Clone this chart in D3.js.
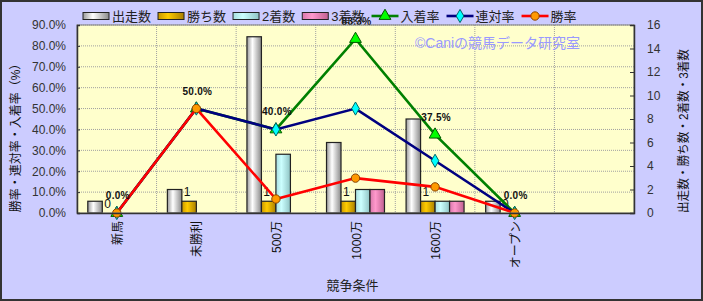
<!DOCTYPE html>
<html lang="ja">
<head>
<meta charset="UTF-8">
<title>競争条件別成績</title>
<script src="https://d3js.org/d3.v7.min.js"></script>
<style>
  body { margin: 0; background: #fff; }
  svg { display: block; }
  text { font-family: "Liberation Sans", "Noto Sans CJK JP", sans-serif; }
</style>
</head>
<body>
<div id="chart"></div>
<script>
// categories (last slot is empty in the original chart)
var categories = ["新馬", "未勝利", "500万", "1000万", "1600万", "オープン", ""];
var barSeries = ["出走数", "勝ち数", "2着数", "3着数"];

// counts
var starts  = [1, 2, 15, 6, 8, 1];
var wins    = [0, 1, 1, 1, 1, 0];
var seconds = [0, 0, 5, 2, 1, 0];
var thirds  = [0, 0, 0, 2, 1, 0];

// rates (%)
var placeRate = [0, 50.0, 40.0, 83.3, 37.5, 0];
var quinRate  = [0, 50.0, 40.0, 50.0, 25.0, 0];
var winRate   = [0, 50.0, 6.7, 16.7, 12.5, 0];

var leftTicks = [0, 10, 20, 30, 40, 50, 60, 70, 80, 90];
var rightTicks = [0, 2, 4, 6, 8, 10, 12, 14, 16];

var W = 703, H = 301;
var margin = { top: 25, right: 69, bottom: 88, left: 77 };

var svg = d3.select("#chart").append("svg")
    .attr("width", W)
    .attr("height", H);

// outer background + frame
svg.append("rect")
    .attr("x", 1).attr("y", 1)
    .attr("width", W - 2).attr("height", H - 2)
    .attr("fill", "#CCCCFF")
    .attr("stroke", "#333")
    .attr("stroke-width", 2);

var x = d3.scaleBand()
    .domain(categories)
    .range([margin.left, W - margin.right]);

var xBar = d3.scaleBand()
    .domain(barSeries)
    .range([0, x.bandwidth()])
    .paddingOuter(0.745);

var yL = d3.scaleLinear().domain([0, 90]).range([H - margin.bottom, margin.top]);
var yR = d3.scaleLinear().domain([0, 16]).range([H - margin.bottom, margin.top]);

var x0 = margin.left, x1 = W - margin.right, yb = H - margin.bottom, yt = margin.top;

// gradients for bars
var defs = svg.append("defs");
var barColors = {
    "出走数": ["#9a9a9a", "#ffffff", "#8a8a8a"],
    "勝ち数": ["#c89600", "#ffcc00", "#a87e00"],
    "2着数":  ["#a8dede", "#ccffff", "#8fc4c4"],
    "3着数":  ["#d877aa", "#ff99cc", "#c06090"]
};
barSeries.forEach(function (s, i) {
    var g = defs.append("linearGradient").attr("id", "g" + i)
        .attr("x1", "0%").attr("x2", "100%").attr("y1", "0%").attr("y2", "0%");
    g.append("stop").attr("offset", "0%").attr("stop-color", barColors[s][0]);
    g.append("stop").attr("offset", "38%").attr("stop-color", barColors[s][1]);
    g.append("stop").attr("offset", "100%").attr("stop-color", barColors[s][2]);
});

// plot area
svg.append("rect")
    .attr("x", x0).attr("y", yt)
    .attr("width", x1 - x0).attr("height", yb - yt)
    .attr("fill", "#FFFFCC");

// grid
svg.append("g").selectAll("line")
    .data(leftTicks.slice(1))
    .enter().append("line")
    .attr("x1", x0).attr("x2", x1)
    .attr("y1", function (d) { return yL(d); })
    .attr("y2", function (d) { return yL(d); })
    .attr("stroke", "#a0a0a0")
    .attr("stroke-dasharray", "1,1");

svg.append("g").selectAll("line")
    .data(categories.slice(1))
    .enter().append("line")
    .attr("x1", function (d) { return x(d); })
    .attr("x2", function (d) { return x(d); })
    .attr("y1", yt).attr("y2", yb)
    .attr("stroke", "#a0a0a0")
    .attr("stroke-dasharray", "1,1");

// watermark
svg.append("text")
    .attr("x", 415).attr("y", 48)
    .attr("fill", "#9999FF")
    .style("font-size", "14px")
    .text("©Caniの競馬データ研究室");

// bars
var barData = [starts, wins, seconds, thirds];
barSeries.forEach(function (s, i) {
    svg.append("g").selectAll("rect")
        .data(barData[i])
        .enter().append("rect")
        .attr("x", function (d, j) { return x(categories[j]) + xBar(s); })
        .attr("y", function (d) { return yR(d); })
        .attr("width", xBar.bandwidth())
        .attr("height", function (d) { return yb - yR(d); })
        .attr("fill", "url(#g" + i + ")")
        .attr("stroke", "#222")
        .attr("stroke-width", 1.2);
});

// win count labels
svg.append("g").selectAll("text")
    .data(wins)
    .enter().append("text")
    .attr("x", function (d, j) { return x(categories[j]) + xBar("勝ち数") + xBar.bandwidth() / 2 - 2; })
    .attr("y", function (d) { return yR(d) - 5; })
    .attr("text-anchor", "middle")
    .style("font-size", "12px")
    .attr("fill", "#111")
    .text(function (d) { return d; });

// line series
var lineSeries = [
    { name: "入着率", values: placeRate, color: "#008000", marker: "triangle", fill: "#00ff00", mstroke: "#005500" },
    { name: "連対率", values: quinRate, color: "#000080", marker: "diamond", fill: "#00ffff", mstroke: "#006666" },
    { name: "勝率", values: winRate, color: "#ff0000", marker: "circle", fill: "#ff9900", mstroke: "#884400" }
];

var cx = function (j) { return x(categories[j]) + x.bandwidth() / 2; };
var line = d3.line()
    .x(function (d, j) { return cx(j); })
    .y(function (d) { return yL(d); });

function symbolPath(type) {
    if (type === "triangle") return d3.symbol().type(d3.symbolTriangle).size(60)();
    if (type === "diamond") return d3.symbol().type(d3.symbolDiamond).size(50)();
    return d3.symbol().type(d3.symbolCircle).size(55)();
}

lineSeries.forEach(function (s) {
    svg.append("path")
        .datum(s.values)
        .attr("d", line)
        .attr("fill", "none")
        .attr("stroke", s.color)
        .attr("stroke-width", 2.6);
    svg.append("g").selectAll("path")
        .data(s.values)
        .enter().append("path")
        .attr("d", symbolPath(s.marker))
        .attr("transform", function (d, j) { return "translate(" + cx(j) + "," + yL(d) + ")"; })
        .attr("fill", s.fill)
        .attr("stroke", s.mstroke)
        .attr("stroke-width", 1);
});

// 入着率 labels
svg.append("g").selectAll("text")
    .data(placeRate)
    .enter().append("text")
    .attr("x", function (d, j) { return cx(j) + 1; })
    .attr("y", function (d) { return yL(d) - 14; })
    .attr("text-anchor", "middle")
    .style("font-size", "10px")
    .style("font-weight", "bold")
    .style("letter-spacing", "0.3px")
    .attr("fill", "#111")
    .text(function (d) { return d.toFixed(1) + "%"; });

// axes lines
svg.append("rect")
    .attr("x", x0).attr("y", yt)
    .attr("width", x1 - x0).attr("height", yb - yt)
    .attr("fill", "none")
    .attr("stroke", "#808080");

var axisL = svg.append("g")
    .attr("transform", "translate(" + x0 + ",0)")
    .call(d3.axisLeft(yL).tickValues(leftTicks).tickSize(-3).tickPadding(11)
        .tickFormat(function (d) { return d.toFixed(1) + "%"; }));
var axisR = svg.append("g")
    .attr("transform", "translate(" + x1 + ",0)")
    .call(d3.axisRight(yR).tickValues(rightTicks).tickSize(-4).tickPadding(13));
var axisB = svg.append("g")
    .attr("transform", "translate(0," + yb + ")")
    .call(d3.axisBottom(x).tickSize(0).tickFormat(""));

[axisL, axisR, axisB].forEach(function (a) {
    a.select(".domain").attr("stroke", "#333").attr("stroke-width", 1.5);
    a.selectAll(".tick line").attr("stroke", "#333");
    a.selectAll("text").style("font-size", "12px").attr("fill", "#333")
        .style("font-family", "'Liberation Sans', sans-serif");
});

// category labels, vertical
svg.append("g").selectAll("text")
    .data(categories)
    .enter().append("text")
    .attr("transform", function (d) { return "translate(" + (x(d) + x.bandwidth() / 2 + 5) + "," + (yb + 8) + ") rotate(-90)"; })
    .attr("text-anchor", "end")
    .style("font-size", "12px")
    .attr("fill", "#111")
    .text(function (d) { return d; });

// axis titles
svg.append("text")
    .attr("x", (x0 + x1) / 2 - 3).attr("y", 290)
    .attr("text-anchor", "middle")
    .style("font-size", "13px")
    .attr("fill", "#222")
    .text("競争条件");

svg.append("text")
    .attr("transform", "translate(20,135) rotate(-90)")
    .attr("text-anchor", "middle")
    .style("font-size", "12px")
    .attr("fill", "#111")
    .text("勝率・連対率・入着率（%）");

svg.append("text")
    .attr("transform", "translate(688,131) rotate(-90)")
    .attr("text-anchor", "middle")
    .style("font-size", "12px")
    .attr("textLength", 164)
    .attr("lengthAdjust", "spacingAndGlyphs")
    .attr("fill", "#111")
    .text("出走数・勝ち数・2着数・3着数");

// legend
var legendItems = barSeries.map(function (s, i) { return { name: s, type: "bar", idx: i }; })
    .concat(lineSeries.map(function (s) { return { name: s.name, type: "line", s: s }; }));

var legend = svg.append("g").attr("transform", "translate(83,16)");
var lx = 0;
legendItems.forEach(function (it) {
    var g = legend.append("g").attr("transform", "translate(" + lx + ",0)");
    if (it.type === "bar") {
        g.append("rect")
            .attr("x", 0).attr("y", -3.5)
            .attr("width", 26).attr("height", 7)
            .attr("fill", "url(#g" + it.idx + ")")
            .attr("stroke", "#222");
    } else {
        g.append("line")
            .attr("x1", 0).attr("x2", 27).attr("y1", 0).attr("y2", 0)
            .attr("stroke", it.s.color).attr("stroke-width", 2.6);
        g.append("path")
            .attr("d", symbolPath(it.s.marker))
            .attr("transform", "translate(13.5,0)")
            .attr("fill", it.s.fill)
            .attr("stroke", it.s.mstroke);
    }
    var t = g.append("text")
        .attr("x", 29).attr("y", 4.5)
        .style("font-size", "13px")
        .attr("fill", "#222")
        .text(it.name);
    lx += 29 + t.node().getComputedTextLength() + 7;
});
</script>
</body>
</html>
